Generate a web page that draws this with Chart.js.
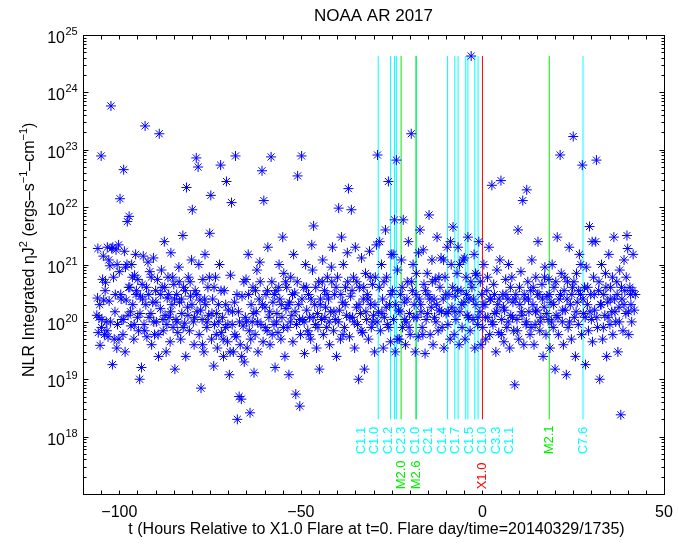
<!DOCTYPE html>
<html>
<head>
<meta charset="utf-8">
<script src="https://cdn.jsdelivr.net/npm/chart.js@4"></script>
<style>
html, body { margin: 0; padding: 0; background: #fff; }
</style>
</head>
<body>
<canvas id="myChart" width="679" height="550"></canvas>
<script>
// NLR integrated eta*J^2 samples: [hours relative to X1.0 flare, value]
const nlrSamples = [
  [-106.2,1.3e20],[-106.0,2.6e20],[-105.8,6.5e19],[-105.6,1.2e20],[-105.3,3.9e19],[-105.0,7.8e22],[-104.8,1.1e20],[-104.6,5.5e20],[-104.3,2.4e20],[-104.1,6.0e19],
  [-103.8,4.9e20],[-103.6,1.0e20],[-103.3,2.0e21],[-103.1,5.5e19],[-102.8,2.3e20],[-102.6,9.5e20],[-102.3,5.8e23],[-102.1,1.9e21],[-101.9,1.8e19],[-101.6,6.0e20],
  [-101.4,5.0e19],[-101.2,1.5e20],[-100.9,1.8e21],[-100.7,3.5e19],[-100.5,9.0e19],[-100.2,2.2e21],[-100.0,7.5e20],[-99.8,1.4e22],[-99.6,3.0e20],[-99.3,1.1e20],
  [-99.0,6.0e19],[-98.8,4.5e22],[-98.6,1.7e21],[-98.3,9.0e20],[-98.1,2.4e20],[-97.8,5.6e21],[-97.6,1.3e20],[-97.3,6.9e21],[-97.1,4.0e20],[-96.8,8.5e19],
  [-96.6,1.0e21],[-96.3,2.0e20],[-96.0,5.0e19],[-95.8,6.5e20],[-95.5,1.5e21],[-95.3,3.5e20],[-95.0,1.2e20],[-94.7,7.0e19],[-94.4,1.0e19],[-94.2,2.8e20],
  [-93.9,1.6e19],[-93.7,4.5e20],[-93.4,1.4e21],[-93.2,9.0e19],[-92.9,2.6e23],[-92.7,2.0e20],[-92.4,5.5e19],[-92.1,1.1e21],[-91.9,3.0e20],[-91.6,7.5e20],
  [-91.3,1.4e20],[-91.1,4.0e19],[-90.8,2.2e20],[-90.6,1.3e21],[-90.3,6.0e19],[-90.0,3.5e20],[-89.8,1.0e20],[-89.5,5.5e20],[-89.2,2.5e19],[-89.0,1.9e23],
  [-88.7,1.7e20],[-88.4,8.0e20],[-88.2,4.0e20],[-87.9,7.0e19],[-87.6,2.5e21],[-87.4,1.3e20],[-87.1,3.0e19],[-86.8,2.6e20],[-86.6,6.0e20],[-86.3,1.2e20],
  [-86.0,4.5e19],[-85.8,1.6e21],[-85.5,2.0e20],[-85.2,8.0e19],[-85.0,4.5e20],[-84.7,1.5e19],[-84.4,1.1e20],[-84.2,3.0e20],[-83.9,6.5e19],[-83.6,9.0e20],
  [-83.4,2.2e20],[-83.1,5.0e19],[-82.8,1.4e20],[-82.5,3.2e21],[-82.3,4.0e20],[-82.0,9.5e19],[-81.7,2.5e19],[-81.5,2.2e22],[-81.2,1.8e20],[-81.0,6.0e20],
  [-80.7,7.0e19],[-80.4,2.8e20],[-80.1,1.2e21],[-79.9,9.0e21],[-79.6,1.0e20],[-79.4,4.0e19],[-79.1,3.5e20],[-78.8,7.2e22],[-78.6,1.5e20],[-78.3,5.0e22],
  [-78.0,6.0e19],[-77.8,2.4e20],[-77.5,7.0e18],[-77.2,1.1e20],[-77.0,5.5e20],[-76.7,3.0e19],[-76.4,1.5e21],[-76.2,2.0e20],[-75.9,8.0e19],[-75.6,4.0e20],
  [-75.4,1.3e20],[-75.1,3.5e21],[-74.8,1.6e22],[-74.6,5.0e19],[-74.3,2.5e20],[-74.0,1.7e19],[-73.8,9.0e19],[-73.5,6.0e20],[-73.2,1.4e20],[-73.0,3.5e19],
  [-72.7,2.0e20],[-72.4,1.0e21],[-72.1,5.4e22],[-71.9,6.5e19],[-71.6,1.2e20],[-71.3,2.5e19],[-71.1,3.5e20],[-70.8,8.0e19],[-70.5,2.8e22],[-70.2,4.5e19],
  [-70.0,1.6e20],[-69.7,1.2e19],[-69.4,6.5e20],[-69.1,1.2e22],[-68.9,9.0e19],[-68.6,3.0e19],[-68.3,2.2e20],[-68.0,7.8e22],[-67.8,5.5e19],[-67.5,2.0e18],
  [-67.2,1.5e20],[-67.0,5.0e18],[-66.7,4.0e19],[-66.4,4.5e18],[-66.2,2.8e20],[-65.9,8.5e19],[-65.6,2.0e19],[-65.3,1.2e20],[-65.1,5.5e20],[-64.8,3.5e19],
  [-64.5,1.5e21],[-64.2,7.0e19],[-64.0,2.6e18],[-63.7,2.0e20],[-63.4,1.0e20],[-63.2,4.0e20],[-62.9,1.3e19],[-62.6,6.0e19],[-62.3,1.5e20],[-62.1,8.0e20],
  [-61.8,3.0e19],[-61.5,2.5e20],[-61.3,1.1e21],[-61.0,9.0e19],[-60.7,4.3e22],[-60.4,4.5e19],[-60.2,1.3e22],[-59.9,1.8e20],[-59.6,3.0e20],[-59.3,7.0e19],
  [-59.1,2.0e21],[-58.8,1.2e20],[-58.5,4.0e19],[-58.2,7.5e22],[-58.0,5.0e20],[-57.7,2.2e20],[-57.4,9.0e19],[-57.1,1.6e19],[-56.9,3.5e20],[-56.6,1.4e20],
  [-56.3,6.5e19],[-56.0,1.0e21],[-55.8,2.5e20],[-55.5,5.0e19],[-55.2,1.2e20],[-55.0,3.0e21],[-54.7,7.0e20],[-54.4,2.5e19],[-54.1,1.7e20],[-53.9,4.0e20],
  [-53.6,8.0e19],[-53.3,1.2e19],[-53.1,2.2e20],[-52.8,6.0e20],[-52.5,1.3e20],[-52.2,4.5e19],[-52.0,1.5e21],[-51.7,3.2e20],[-51.4,5.5e18],[-51.2,9.0e19],
  [-50.9,3.5e22],[-50.6,2.0e20],[-50.3,3.4e18],[-50.1,6.0e19],[-49.8,7.8e22],[-49.5,1.1e20],[-49.2,4.0e20],[-49.0,2.8e19],[-48.7,1.0e21],[-48.4,1.6e20],
  [-48.1,7.0e19],[-47.9,3.0e20],[-47.6,1.2e20],[-47.3,5.0e19],[-47.0,2.2e21],[-46.8,8.0e20],[-46.5,4.7e21],[-46.2,2.0e20],[-46.0,9.0e19],[-45.7,3.5e19],
  [-45.4,1.4e20],[-45.1,5.0e20],[-44.9,1.5e19],[-44.6,2.5e20],[-44.3,1.1e20],[-44.0,1.2e21],[-43.8,6.0e19],[-43.5,3.5e20],[-43.2,1.8e20],[-42.9,8.0e19],
  [-42.7,6.0e20],[-42.4,2.5e20],[-42.1,4.0e19],[-41.8,1.5e20],[-41.6,9.0e20],[-41.3,2.0e21],[-41.0,7.0e19],[-40.7,3.0e20],[-40.5,1.1e20],[-40.2,2.5e19],
  [-39.9,6.0e20],[-39.6,9.6e21],[-39.4,1.6e20],[-39.1,5.0e19],[-38.8,3.0e21],[-38.5,2.2e20],[-38.3,1.0e21],[-38.0,8.0e19],[-37.7,4.0e20],[-37.4,1.3e20],
  [-37.2,1.6e21],[-36.9,2.1e22],[-36.6,5.5e19],[-36.3,2.8e20],[-36.1,9.0e21],[-35.8,1.2e20],[-35.5,6.0e20],[-35.2,3.5e19],[-35.0,2.0e21],[-34.7,1.8e20],
  [-34.4,9.0e19],[-34.1,1.0e19],[-33.9,4.0e20],[-33.6,1.4e20],[-33.3,1.3e21],[-33.0,6.5e19],[-32.8,2.5e20],[-32.5,1.5e19],[-32.2,7.0e20],[-31.9,1.1e20],
  [-31.7,3.0e20],[-31.4,5.0e19],[-31.1,1.7e21],[-30.8,2.0e20],[-30.6,8.0e19],[-30.3,4.5e20],[-30.0,1.3e20],[-29.7,3.0e19],[-29.5,6.0e20],[-29.2,2.2e21],
  [-28.9,8.1e22],[-28.6,1.5e20],[-28.4,4.0e20],[-28.1,7.0e19],[-27.8,1.0e21],[-27.5,2.5e20],[-27.3,3.5e19],[-27.0,1.2e20],[-26.7,4.0e21],[-26.4,6.0e20],
  [-26.2,9.0e19],[-25.9,2.8e22],[-25.6,2.0e20],[-25.3,4.5e19],[-25.1,1.5e21],[-24.8,3.5e20],[-24.5,1.1e20],[-24.2,6.0e21],[-24.0,3.0e19],[-23.7,6.6e22],
  [-23.4,8.0e20],[-23.1,1.6e20],[-22.9,5.0e19],[-22.6,3.0e20],[-22.3,1.2e21],[-22.0,8.0e19],[-21.8,6.0e21],[-21.5,2.2e20],[-21.2,4.0e19],[-21.0,1.0e20],
  [-20.7,5.0e20],[-20.4,2.5e21],[-20.1,1.4e20],[-19.9,6.0e19],[-19.6,1.9e23],[-19.3,3.5e20],[-19.1,1.0e21],[-18.8,2.0e20],[-18.5,3.0e19],[-18.2,7.0e20],
  [-18.0,1.2e20],[-17.7,5.5e19],[-17.4,2.5e20],[-17.2,4.0e21],[-16.9,1.5e20],[-16.6,8.0e19],[-16.3,1.8e21],[-16.1,4.5e20],[-15.8,2.8e19],[-15.5,1.1e20],
  [-15.2,7.0e20],[-15.0,3.0e20],[-14.7,7.3e21],[-14.4,6.0e19],[-14.1,1.8e20],[-13.9,1.2e21],[-13.6,4.0e19],[-13.3,2.5e20],[-13.0,5.5e20],[-12.8,1.0e20],
  [-12.5,3.0e21],[-12.2,7.0e19],[-11.9,1.6e20],[-11.7,4.0e20],[-11.4,1.3e21],[-11.1,8.0e19],[-10.8,2.5e20],[-10.6,3.5e19],[-10.3,6.0e20],[-10.0,1.4e20],
  [-9.7,2.0e21],[-9.5,9.0e19],[-9.2,3.0e20],[-8.9,5.0e19],[-8.6,1.0e21],[-8.4,1.8e20],[-8.1,4.5e21],[-7.8,6.0e19],[-7.5,2.8e20],[-7.3,1.1e20],
  [-7.0,7.0e20],[-6.7,2.0e21],[-6.4,4.0e19],[-6.2,1.5e20],[-5.9,3.5e20],[-5.6,8.0e19],[-5.3,1.2e21],[-5.1,2.2e20],[-4.8,5.0e19],[-4.5,6.0e20],
  [-4.2,1.3e20],[-4.0,3.0e21],[-3.7,2.5e20],[-3.4,7.0e19],[-3.1,4.3e24],[-2.9,4.0e20],[-2.6,1.1e20],[-2.3,1.5e21],[-2.1,3.5e19],[-1.8,2.0e20],
  [-1.5,6.5e20],[-1.3,9.0e19],[-1.0,2.5e21],[-0.7,1.5e20],[-0.4,4.0e19],[-0.2,3.0e20],[0.1,8.0e19],[0.4,1.0e21],[0.7,2.0e20],[0.9,5.0e19],
  [1.2,3.5e20],[1.5,1.2e20],[1.8,2.0e21],[2.0,6.0e19],[2.3,2.5e20],[2.6,2.4e22],[2.9,9.0e19],[3.1,4.5e20],[3.4,1.4e20],[3.7,3.0e19],
  [4.0,8.0e20],[4.2,2.0e20],[4.5,6.5e19],[4.8,1.2e21],[5.1,2.9e22],[5.3,1.1e20],[5.6,3.0e20],[5.9,4.5e19],[6.1,1.6e20],[6.4,5.5e20],
  [6.7,8.0e19],[7.0,2.5e20],[7.2,1.0e21],[7.5,3.5e19],[7.8,1.3e20],[8.1,6.0e20],[8.4,2.2e20],[8.6,7.0e19],[8.9,8.0e18],[9.2,3.0e20],
  [9.5,1.1e20],[9.8,4.0e21],[10.0,5.0e19],[10.3,2.0e20],[10.6,7.5e20],[10.9,1.3e20],[11.1,1.3e22],[11.4,4.0e19],[11.7,2.5e20],[12.0,9.0e19],
  [12.2,2.0e22],[12.5,5.0e20],[12.8,1.5e20],[13.1,6.0e19],[13.3,3.5e20],[13.6,1.2e21],[13.9,2.0e20],[14.2,4.0e19],[14.5,9.0e19],[14.7,6.0e20],
  [15.0,1.6e20],[15.3,2.5e21],[15.6,3.0e20],[15.8,7.0e19],[16.1,1.2e20],[16.4,4.5e20],[16.7,2.5e19],[17.0,1.8e20],[17.2,9.0e20],[17.5,6.0e19],
  [17.8,2.8e20],[18.1,1.1e20],[18.3,5.5e20],[18.6,3.5e19],[18.9,2.2e20],[19.2,1.0e21],[19.5,8.0e19],[19.7,4.0e20],[20.0,1.5e19],[20.3,1.3e20],
  [20.6,3.0e21],[20.9,6.0e19],[21.1,2.5e20],[21.4,8.1e22],[21.7,7.0e20],[22.0,1.0e20],[22.3,4.0e19],[22.5,3.5e20],[22.8,1.6e20],[23.1,1.2e19],
  [23.4,5.0e20],[23.6,8.0e19],[23.9,2.0e21],[24.2,2.0e20],[24.5,5.0e19],[24.8,4.0e20],[25.0,1.7e23],[25.3,1.2e20],[25.6,2.5e19],[25.9,7.0e20],
  [26.1,2.2e20],[26.4,9.0e19],[26.7,1.5e21],[27.0,3.0e20],[27.3,6.0e19],[27.5,5.4e22],[27.8,1.4e20],[28.1,4.0e20],[28.4,1.8e19],[28.6,9.0e20],
  [28.9,2.0e20],[29.2,7.0e19],[29.5,4.6e21],[29.8,3.0e20],[30.0,1.1e20],[30.3,4.5e19],[30.6,6.0e20],[30.9,1.6e20],[31.2,2.5e21],[31.4,6.6e22],
  [31.7,8.0e19],[32.0,3.5e20],[32.3,1.0e19],[32.5,2.0e20],[32.8,1.0e21],[33.1,5.0e19],[33.4,3.0e20],[33.7,1.3e20],[33.9,7.0e20],[34.2,2.5e19],
  [34.5,2.2e20],[34.8,1.5e21],[35.1,9.0e19],[35.3,4.0e20],[35.6,1.5e20],[35.9,6.0e19],[36.2,3.0e21],[36.4,2.5e20],[36.7,1.0e20],[37.0,5.0e20],
  [37.3,3.0e19],[37.6,1.8e20],[37.8,8.0e20],[38.1,2.4e18],[38.4,2.5e20],[38.7,7.0e19],[39.0,1.2e21],[39.2,3.5e20],[39.5,1.4e20],[39.8,3.2e21],
  [40.0,1.9e21],[40.3,6.0e19],[40.6,4.0e20],[40.9,2.0e20],[41.1,1.0e20],[41.4,3.5e20],[41.8,1.6e20],[42.1,3.0e20],
  // denser core of the band
  [-105.9,1.9e21],[-105.4,2.0e20],[-104.9,8.0e19],[-104.4,1.4e21],[-103.9,3.5e20],[-103.4,7.0e19],[-102.9,1.2e21],[-102.4,1.0e20],[-101.8,2.0e21],[-101.1,3.0e20],
  [-100.6,1.0e21],[-100.1,5.0e19],[-99.5,2.5e20],[-98.9,1.1e20],[-98.4,3.0e19],[-97.9,1.0e21],[-97.4,4.0e20],[-96.9,1.5e20],[-96.4,6.0e20],[-95.9,9.0e19],
  [-95.4,3.0e20],[-94.9,5.5e20],[-94.3,1.4e20],[-93.6,2.5e20],[-93.0,7.0e19],[-92.5,4.0e20],[-91.8,1.2e20],[-91.2,6.0e20],[-90.5,1.0e20],[-89.9,2.2e20],
  [-89.3,6.0e19],[-88.6,3.0e20],[-88.0,1.1e20],[-87.5,4.0e20],[-86.9,9.0e19],[-86.4,3.0e20],[-85.9,1.5e20],[-85.3,6.0e20],[-84.8,2.5e20],[-84.1,1.0e20],
  [-83.5,5.0e20],[-82.9,2.5e20],[-82.4,8.0e19],[-81.8,3.5e20],[-81.1,1.3e20],[-80.5,5.0e20],[-80.0,2.0e20],[-79.3,1.2e20],[-78.7,3.0e20],[-78.1,1.0e21],
  [-77.6,1.6e20],[-77.1,4.0e19],[-76.5,2.5e20],[-75.8,1.0e20],[-75.2,6.0e20],[-74.5,1.4e20],[-73.9,4.0e20],[-73.3,6.0e19],[-72.6,1.0e20],[-72.0,3.5e20],
  [-71.4,5.0e19],[-70.7,2.0e20],[-70.1,9.0e19],[-69.5,3.0e19],[-68.8,1.5e20],[-68.2,6.0e19],[-67.6,3.0e20],[-66.9,1.0e20],[-66.3,2.5e19],[-65.7,5.0e20],
  [-65.0,1.0e20],[-64.4,3.0e20],[-63.8,5.0e19],[-63.1,1.4e20],[-62.5,3.5e20],[-61.9,1.0e20],[-61.2,5.0e20],[-60.6,2.0e20],[-59.8,8.0e19],[-59.2,3.5e20],
  [-58.6,1.5e20],[-57.9,6.0e19],[-57.3,3.0e20],[-56.7,1.0e20],[-56.1,4.0e20],[-55.4,2.0e20],[-54.8,8.0e19],[-54.2,5.0e20],[-53.5,2.0e20],[-52.9,1.0e20],
  [-52.3,3.0e20],[-51.6,1.5e20],[-51.0,5.0e20],[-50.4,1.1e20],[-49.7,2.5e20],[-49.1,1.0e20],[-48.5,4.0e20],[-47.8,6.0e19],[-47.2,2.5e20],[-46.6,1.2e20],
  [-45.9,4.0e20],[-45.3,8.0e19],[-44.7,2.0e20],[-44.1,5.0e20],[-43.4,1.2e20],[-42.8,3.0e20],[-42.2,1.0e20],[-41.5,5.0e20],[-40.9,1.5e20],[-40.3,4.0e20],
  [-39.7,1.0e20],[-39.0,3.0e20],[-38.4,6.0e19],[-37.8,2.0e20],[-37.1,5.0e20],[-36.5,1.2e20],[-35.9,3.5e20],[-35.3,1.0e20],[-34.6,5.0e20],[-34.0,2.0e20],
  [-33.4,7.0e19],[-32.7,4.0e20],[-32.1,1.5e20],[-31.5,2.5e20],[-30.9,6.0e20],[-30.2,1.0e20],[-29.6,2.0e20],[-29.0,1.0e20],[-28.3,2.5e21],[-27.7,1.4e20],
  [-27.1,5.0e20],[-26.5,1.8e20],[-25.8,8.0e19],[-25.2,3.0e20],[-24.6,1.5e21],[-23.9,2.0e20],[-23.3,5.0e19],[-22.7,1.5e20],[-22.1,4.0e20],[-21.4,1.1e20],
  [-20.8,2.5e20],[-20.2,8.0e19],[-19.5,5.0e20],[-18.9,1.2e20],[-18.3,3.0e20],[-17.6,1.6e21],[-17.0,2.0e20],[-16.4,6.0e19],[-15.7,3.5e20],[-15.1,1.4e20],
  [-14.5,2.5e20],[-13.8,5.0e20],[-13.2,1.2e20],[-12.6,2.0e20],[-12.0,6.0e20],[-11.3,1.5e20],[-10.7,1.2e21],[-10.1,3.0e20],[-9.4,1.5e20],[-8.8,2.5e21],
  [-8.2,4.0e20],[-7.6,1.5e20],[-6.9,3.5e20],[-6.3,1.0e21],[-5.7,2.0e20],[-5.0,1.3e21],[-4.4,3.0e20],[-3.8,1.2e20],[-3.2,5.0e20],[-2.5,2.5e20],
  [-1.9,7.0e20],[-1.2,1.2e20],[-0.6,5.0e20],[0.2,2.0e20],[0.8,1.2e20],[1.4,6.0e20],[2.1,2.5e20],[2.7,1.0e20],[3.3,3.0e20],[3.9,1.5e20],
  [4.6,2.5e20],[5.2,6.0e19],[5.8,1.8e20],[6.5,3.0e20],[7.1,1.0e20],[7.7,4.0e20],[8.3,1.2e20],[9.0,2.5e20],[9.6,7.0e19],[10.2,4.0e20],
  [10.8,1.5e20],[11.5,3.0e20],[12.1,1.0e20],[12.7,2.5e20],[13.4,8.0e19],[14.0,4.0e20],[14.6,1.5e20],[15.2,3.0e20],[15.9,1.0e20],[16.5,2.5e20],
  [17.1,6.0e20],[17.7,1.4e20],[18.4,3.0e20],[19.0,1.0e20],[19.6,2.0e20],[20.2,5.0e20],[20.8,1.2e20],[21.5,3.0e20],[22.1,1.6e20],[22.7,6.0e20],
  [23.3,2.5e20],[24.0,1.0e20],[24.6,3.0e20],[25.2,5.0e20],[25.8,1.5e20],[26.5,3.5e20],[27.1,1.0e21],[27.7,2.5e20],[28.3,1.2e20],[29.0,4.0e20],
  [29.6,1.5e20],[30.2,2.5e21],[30.8,3.0e20],[31.5,1.2e20],[32.1,5.0e20],[32.7,2.0e20],[33.3,8.0e19],[34.0,4.0e20],[34.6,1.2e20],[35.2,2.5e20],
  [35.8,6.0e20],[36.5,1.5e20],[37.1,3.0e20],[37.7,1.0e20],[38.3,4.0e20],[39.0,2.0e20],[39.6,6.0e20],[40.2,1.5e20],[40.8,3.0e20],[41.5,1.5e21]
];

// flares (GOES class) in the window
const flareHours = [-28.7, -25.3, -24.2, -23.7, -22.4, -18.3, -18.2, -9.6, -7.6, -6.7, -4.6, -4.0, -2.1, -1.2, 0, 18.4, 27.7];
const flareClasses = ['C1.1', 'C1.0', 'C1.2', 'C2.3', 'M2.0', 'M2.6', 'C1.0', 'C2.1', 'C1.4', 'C1.7', 'C1.5', 'C1.0', 'C3.3', 'C1.1', 'X1.0', 'M2.1', 'C7.6'];

const xTickLabels = [-100, -50, 0, 50];
const yDecades = [17, 18, 19, 20, 21, 22, 23, 24, 25];

const FONT = '"Liberation Sans", Arial, Helvetica, sans-serif';
const classColors = { C: '#00ffff', M: '#00ee00', X: '#ff0000' };

const nlrValues = nlrSamples.map(s => s[1]);
const yLo = Math.min(...nlrValues);
const yHi = Math.max(...nlrValues);

let datasets = [{
  type: 'scatter',
  label: 'NLR',
  data: nlrSamples.map(s => ({ x: s[0], y: s[1] })),
  pointStyle: 'star',
  pointRadius: 5,
  borderColor: '#0000ff',
  backgroundColor: '#0000ff',
  borderWidth: 1,
  showLine: false,
  order: 0,
}];

flareHours.forEach((t, i) => {
  datasets.push({
    type: 'line',
    label: flareClasses[i],
    data: [{ x: t, y: yLo }, { x: t, y: yHi }],
    borderColor: classColors[flareClasses[i][0]],
    borderWidth: 1,
    pointRadius: 0,
    order: 1,
  });
});

// spread overlapping labels so they sit side by side
function spreadLabels(items, gap) {
  let groups = items.map(it => ({ members: [it], center: it.want }));
  let merged = true;
  while (merged) {
    merged = false;
    for (let i = 0; i < groups.length - 1; i++) {
      const a = groups[i], b = groups[i + 1];
      const aRight = a.center + (a.members.length - 1) * gap / 2;
      const bLeft = b.center - (b.members.length - 1) * gap / 2;
      if (bLeft - aRight < gap) {
        const members = a.members.concat(b.members);
        const center = members.reduce((s, m) => s + m.want, 0) / members.length;
        groups.splice(i, 2, { members, center });
        merged = true;
        break;
      }
    }
  }
  groups.forEach(g => g.members.forEach((m, k) => {
    m.x = g.center + (k - (g.members.length - 1) / 2) * gap;
  }));
}

const decorations = {
  id: 'decorations',
  afterDraw(chart) {
    const ctx = chart.ctx;
    const xs = chart.scales.x, ys = chart.scales.y;
    const a = chart.chartArea;
    const L = Math.round(a.left) + 0.5, R = Math.round(a.right) + 0.5;
    const T = Math.round(a.top) + 0.5, B = Math.round(a.bottom) + 0.5;
    ctx.save();
    ctx.strokeStyle = '#000';
    ctx.fillStyle = '#000';
    ctx.lineWidth = 1;
    ctx.strokeRect(L, T, R - L, B - T);

    // x ticks, inward, top and bottom
    ctx.beginPath();
    for (let v = -110; v <= 50; v += 5) {
      const px = Math.round(xs.getPixelForValue(v)) + 0.5;
      ctx.moveTo(px, B); ctx.lineTo(px, B - 4);
      ctx.moveTo(px, T); ctx.lineTo(px, T + 4);
    }
    // y ticks, log major + minor
    yDecades.forEach(e => {
      for (let m = 1; m <= 9; m++) {
        if (e === 25 && m > 1) break;
        const py = Math.round(ys.getPixelForValue(m * Math.pow(10, e))) + 0.5;
        const len = m === 1 ? 5 : 3;
        ctx.moveTo(L, py); ctx.lineTo(L + len, py);
        ctx.moveTo(R, py); ctx.lineTo(R - len, py);
      }
    });
    ctx.stroke();

    // x tick labels
    ctx.font = '16px ' + FONT;
    ctx.textAlign = 'center';
    ctx.textBaseline = 'middle';
    xTickLabels.forEach(v => {
      const txt = v < 0 ? '\u2212' + Math.abs(v) : String(v);
      ctx.fillText(txt, xs.getPixelForValue(v), 513);
    });

    // y tick labels 10^e
    yDecades.forEach(e => {
      if (e === 17) return;
      const py = ys.getPixelForValue(Math.pow(10, e));
      ctx.font = '16px ' + FONT;
      ctx.textAlign = 'right';
      ctx.textBaseline = 'alphabetic';
      ctx.fillText('10', 65, py + 8);
      ctx.font = '11px ' + FONT;
      ctx.textAlign = 'left';
      ctx.fillText(String(e), 65.5, py);
    });

    // title and x label
    ctx.textAlign = 'center';
    ctx.textBaseline = 'middle';
    ctx.font = '17px ' + FONT;
    ctx.fillText('NOAA AR 2017', (a.left + a.right) / 2, 16);
    ctx.font = '16px ' + FONT;
    ctx.fillText('t (Hours Relative to X1.0 Flare at t=0. Flare day/time=20140329/1735)', (a.left + a.right) / 2 + 3, 530);

    // y label with superscripts
    const parts = [['NLR Integrated \u03B7J', 0], ['2', 1], [' (ergs\u2013s', 0], ['\u22121', 1], ['\u2013cm', 0], ['\u22121', 1], [')', 0]];
    ctx.save();
    ctx.translate(34, 377);
    ctx.rotate(-Math.PI / 2);
    ctx.textAlign = 'left';
    ctx.textBaseline = 'alphabetic';
    let off = 0;
    parts.forEach(([txt, sup]) => {
      ctx.font = (sup ? '11px ' : '16px ') + FONT;
      ctx.fillText(txt, off, sup ? -7 : 0);
      off += ctx.measureText(txt).width;
    });
    ctx.restore();

    // flare labels
    const lineBottom = ys.getPixelForValue(yLo);
    const items = flareHours.map((t, i) => ({ want: xs.getPixelForValue(t), cls: flareClasses[i] }));
    const cItems = items.filter(it => it.cls[0] === 'C');
    spreadLabels(cItems, 13.5);
    items.forEach(it => {
      if (it.cls[0] === 'C') { it.row = 0; return; }
      it.x = it.want;
      it.row = cItems.some(c => Math.abs(c.x - it.x) < 14) ? 1 : 0;
    });
    ctx.font = '13px ' + FONT;
    ctx.textAlign = 'left';
    ctx.textBaseline = 'middle';
    items.forEach(it => {
      ctx.save();
      ctx.translate(it.x, lineBottom + (it.row ? 70 : 35));
      ctx.rotate(-Math.PI / 2);
      ctx.fillStyle = classColors[it.cls[0]];
      ctx.fillText(it.cls, 0, 0);
      ctx.restore();
    });
    ctx.restore();
  }
};

const config = {
  data: { datasets: datasets },
  options: {
    responsive: false,
    animation: false,
    events: [],
    layout: { padding: { left: 83, right: 15, top: 35, bottom: 56 } },
    scales: {
      x: { type: 'linear', min: -110, max: 50, display: false },
      y: { type: 'logarithmic', min: 1e17, max: 1e25, display: false },
    },
    plugins: {
      legend: { display: false },
      title: { display: false },
      tooltip: { enabled: false },
    },
  },
  plugins: [decorations],
};

const myChart = new Chart(document.getElementById('myChart'), config);
</script>
</body>
</html>
